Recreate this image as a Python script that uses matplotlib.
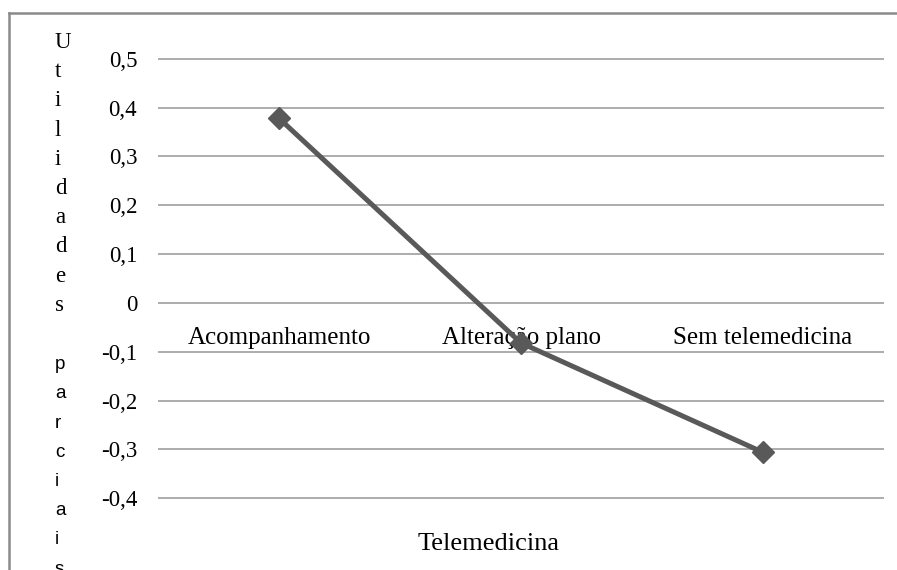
import matplotlib
matplotlib.use("Agg")
import matplotlib.pyplot as plt
from matplotlib.lines import Line2D

# Part-worth utilities for the "Telemedicina" attribute
categories = ["Acompanhamento", "Alteração plano", "Sem telemedicina"]
utilities = [0.378, -0.082, -0.306]
y_ticks = [0.5, 0.4, 0.3, 0.2, 0.1, 0.0, -0.1, -0.2, -0.3, -0.4]
y_tick_labels = ["0,5", "0,4", "0,3", "0,2", "0,1", "0", "-0,1", "-0,2", "-0,3", "-0,4"]
x_title = "Telemedicina"
y_title_top = "Utilidades"
y_title_bottom = "parciais"

W, H = 897, 570
fig = plt.figure(figsize=(W / 100, H / 100), dpi=100)
fig.patch.set_facecolor("white")

def px_x(x):
    return x / W

def px_y(y):
    return 1 - y / H

# plot area
ax = fig.add_axes([px_x(158), px_y(499), px_x(884) - px_x(158), px_y(58) - px_y(499)])
ax.set_xlim(-0.5, len(categories) - 0.5)
ax.set_ylim(-0.4015, 0.5015)

for s in ["top", "right", "left"]:
    ax.spines[s].set_visible(False)
ax.spines["bottom"].set_position(("data", 0))
ax.spines["bottom"].set_visible(False)

ax.set_yticks(y_ticks)
ax.set_yticklabels(y_tick_labels, fontfamily="Liberation Serif", fontsize=16.5)
ax.tick_params(axis="y", length=0, pad=15)

xs = list(range(len(categories)))
ax.set_xticks(xs)
ax.set_xticklabels(categories, fontfamily="Liberation Serif", fontsize=18)
ax.tick_params(axis="x", length=0, pad=17)

ax.yaxis.grid(True, color="#a6a6a6", linewidth=1.3)
ax.set_axisbelow(True)

ax.plot(xs, utilities, color="#595959", linewidth=3.6, marker="D",
        markersize=11, markerfacecolor="#595959", markeredgecolor="#595959",
        zorder=3, clip_on=False)

# x axis title
fig.text(px_x(489), px_y(550), x_title, ha="center", va="baseline",
         fontfamily="Liberation Serif", fontsize=19)

# y axis title written one letter per line
letters = list(y_title_top) + [" "] + list(y_title_bottom)
step = 29.2
for i, ch in enumerate(letters):
    if ch == " ":
        continue
    in_top = i < len(y_title_top)
    fig.text(px_x(55), px_y(48 + i * step), ch, ha="left", va="baseline",
             fontfamily="Liberation Serif" if in_top else "Liberation Sans",
             fontsize=16.5 if in_top else 13.5)

# chart frame (left and top edges visible)
frame_color = "#8a8a8a"
fig.add_artist(Line2D([px_x(9), px_x(9)], [px_y(13), 0], transform=fig.transFigure,
                      color=frame_color, linewidth=1.8))
fig.add_artist(Line2D([px_x(9), 1], [px_y(13), px_y(13)], transform=fig.transFigure,
                      color=frame_color, linewidth=1.8))

fig.savefig("out.png", dpi=100)
